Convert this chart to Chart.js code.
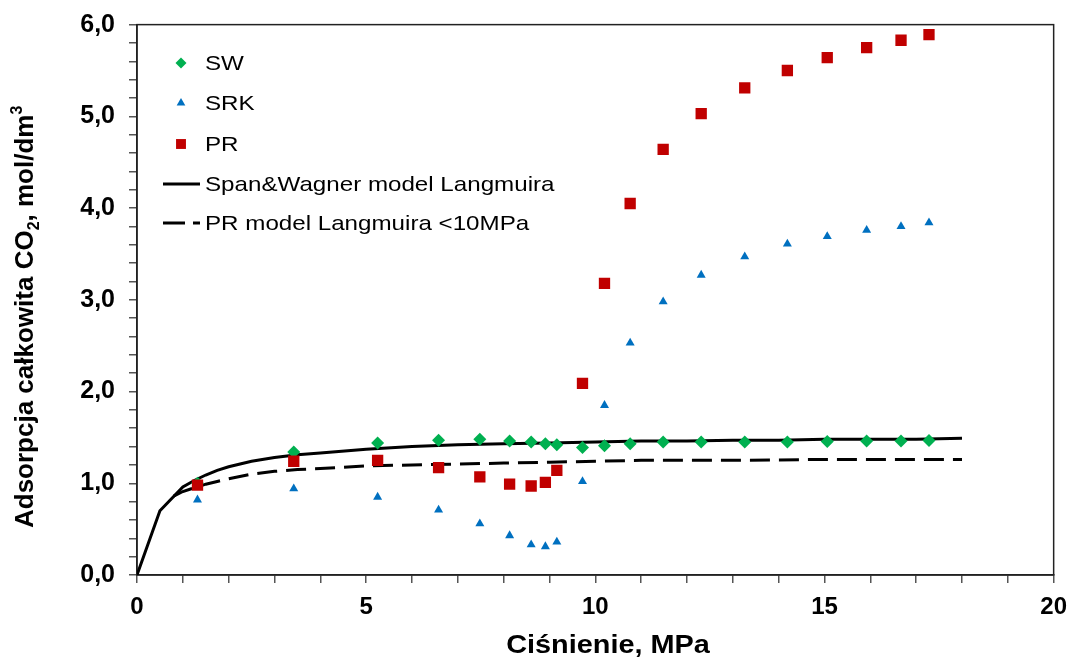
<!DOCTYPE html>
<html>
<head>
<meta charset="utf-8">
<script src="https://cdn.jsdelivr.net/npm/chart.js@4/dist/chart.umd.min.js"></script>
<style>
  html, body { margin: 0; padding: 0; background: #fff; }
  #wrap { width: 1070px; height: 662px; }
</style>
</head>
<body>
<div id="wrap"><canvas id="chart"></canvas></div>
<script>
// measured points (pressure in MPa)
const pressure = [1.32, 3.42, 5.25, 6.58, 7.48, 8.13, 8.60, 8.91, 9.16, 9.72,
  10.20, 10.76, 11.48, 12.31, 13.26, 14.19, 15.06, 15.92, 16.67, 17.28];
const swValues = [1.00, 1.34, 1.44, 1.47, 1.48, 1.46, 1.45, 1.43, 1.42, 1.39,
  1.41, 1.43, 1.45, 1.45, 1.45, 1.45, 1.455, 1.46, 1.46, 1.465];
const srkValues = [0.82, 0.94, 0.85, 0.71, 0.56, 0.43, 0.33, 0.31, 0.36, 1.02,
  1.85, 2.53, 2.98, 3.27, 3.47, 3.61, 3.69, 3.76, 3.80, 3.84];
const prValues = [0.98, 1.24, 1.25, 1.17, 1.07, 0.99, 0.97, 1.01, 1.14, 2.09,
  3.18, 4.05, 4.64, 5.03, 5.31, 5.50, 5.64, 5.75, 5.83, 5.89];

// model curves
const swModelP = [0, 0.5, 1, 1.25, 1.5, 1.75, 2, 2.5, 3, 3.5, 4, 5, 6, 7, 8, 9, 10, 11, 12, 13, 14, 15, 16, 17, 18];
const swModelQ = [0, 0.70, 0.96, 1.03, 1.09, 1.14, 1.18, 1.24, 1.28, 1.31, 1.33, 1.37, 1.40, 1.42, 1.43, 1.44, 1.45,
  1.46, 1.46, 1.47, 1.47, 1.48, 1.48, 1.48, 1.49];
const prModelP = [0.8, 1, 1.25, 1.5, 1.75, 2, 2.5, 3, 3.5, 4, 5, 6, 7, 8, 9, 10, 11, 12, 13, 14, 15, 16, 17, 18];
const prModelQ = [0.86, 0.91, 0.95, 0.99, 1.02, 1.05, 1.10, 1.13, 1.15, 1.16, 1.19, 1.20, 1.21, 1.22, 1.23, 1.24,
  1.25, 1.25, 1.25, 1.255, 1.26, 1.26, 1.26, 1.26];

const xTicks = [0, 5, 10, 15, 20];
const yTicks = [0, 1, 2, 3, 4, 5, 6];

const legendLabels = ['SW', 'SRK', 'PR', 'Span&Wagner model Langmuira', 'PR model Langmuira <10MPa'];

const GREEN = '#00B050';
const BLUE = '#0070C0';
const RED = '#C00000';
const FONT = "'Liberation Sans', Arial, sans-serif";

function pts(xs, ys) {
  return xs.map((x, i) => ({ x: x, y: ys[i] }));
}

const framePlugin = {
  id: 'frame',
  beforeDatasetsDraw(chart) {
    const a = chart.chartArea;
    const ctx = chart.ctx;
    ctx.save();
    ctx.strokeStyle = '#222';
    ctx.lineWidth = 1.5;
    ctx.strokeRect(a.left, a.top, a.right - a.left, a.bottom - a.top);
    ctx.restore();
  }
};

// axis titles (y one needs a subscript and a superscript)
const axisTitles = {
  id: 'axisTitles',
  afterDraw(chart) {
    const ctx = chart.ctx;
    ctx.save();
    ctx.fillStyle = '#000';
    ctx.textBaseline = 'alphabetic';
    ctx.textAlign = 'center';
    ctx.font = 'bold 26px ' + FONT;
    ctx.save();
    ctx.translate(608, 653);
    ctx.scale(1.11, 1);
    ctx.fillText('Ciśnienie, MPa', 0, 0);
    ctx.restore();

    ctx.textAlign = 'left';
    ctx.translate(33, 528);
    ctx.rotate(-Math.PI / 2);
    const big = 'bold 26px ' + FONT;
    const small = 'bold 16px ' + FONT;
    const parts = [
      ['Adsorpcja całkowita CO', big, 0],
      ['2', small, 6],
      [', mol/dm', big, 0],
      ['3', small, -11]
    ];
    let x = 0;
    parts.forEach(([t, f, dy]) => {
      ctx.font = f;
      ctx.fillText(t, x, dy);
      x += ctx.measureText(t).width;
    });
    ctx.restore();
  }
};

// legend drawn inside the plot, top-left
const innerLegend = {
  id: 'innerLegend',
  afterDraw(chart) {
    const ctx = chart.ctx;
    const ds = chart.data.datasets;
    ctx.save();
    const rows = [63, 103, 144, 184, 223];
    const mx = 181, tx = 205;
    const small = [5.5, 5, 7];
    for (let i = 0; i < 3; i++) {
      const d = ds[i];
      ctx.fillStyle = d.backgroundColor;
      ctx.strokeStyle = d.borderColor;
      Chart.helpers.drawPoint(ctx, { pointStyle: d.pointStyle, radius: small[i], rotation: 0, borderWidth: 0 }, mx, rows[i]);
    }
    ctx.strokeStyle = '#000';
    ctx.lineWidth = 3;
    ctx.beginPath();
    ctx.moveTo(163, rows[3]);
    ctx.lineTo(200, rows[3]);
    ctx.stroke();
    ctx.beginPath();
    ctx.moveTo(163, rows[4]);
    ctx.lineTo(185, rows[4]);
    ctx.moveTo(193, rows[4]);
    ctx.lineTo(200, rows[4]);
    ctx.stroke();
    ctx.fillStyle = '#000';
    ctx.font = '21px ' + FONT;
    ctx.textBaseline = 'middle';
    legendLabels.forEach((t, i) => {
      ctx.save();
      ctx.translate(tx, rows[i] + 1);
      ctx.scale(1.15, 1);
      ctx.fillText(t, 0, 0);
      ctx.restore();
    });
    ctx.restore();
  }
};

const isMajor = (v, list) => list.some(t => Math.abs(t - v) < 1e-6);

new Chart(document.getElementById('chart'), {
  type: 'scatter',
  data: {
    datasets: [
      { label: legendLabels[0], data: pts(pressure, swValues), pointStyle: 'rectRot', radius: 6.5,
        backgroundColor: GREEN, borderColor: GREEN, borderWidth: 0, order: 2 },
      { label: legendLabels[1], data: pts(pressure, srkValues), pointStyle: 'triangle', radius: 5.2,
        backgroundColor: BLUE, borderColor: BLUE, borderWidth: 0, order: 1 },
      { label: legendLabels[2], data: pts(pressure, prValues), pointStyle: 'rect', radius: 8,
        backgroundColor: RED, borderColor: RED, borderWidth: 0, order: 0 },
      { label: legendLabels[3], data: pts(swModelP, swModelQ), showLine: true, pointRadius: 0,
        borderColor: '#000', borderWidth: 3, tension: 0, order: 3 },
      { label: legendLabels[4], data: pts(prModelP, prModelQ), showLine: true, pointRadius: 0,
        borderColor: '#000', borderWidth: 3, borderDash: [20, 9], tension: 0, order: 4 }
    ]
  },
  options: {
    responsive: true,
    maintainAspectRatio: false,
    animation: false,
    layout: { padding: { left: 0, top: 21, right: 4, bottom: 0 } },
    plugins: {
      legend: { display: false },
      tooltip: { enabled: false }
    },
    scales: {
      x: {
        type: 'linear',
        min: 0,
        max: 20,
        afterFit(scale) { scale.height = 87; },
        ticks: {
          stepSize: 1,
          autoSkip: false,
          maxRotation: 0,
          padding: 3,
          color: '#000',
          font: { family: FONT, size: 24, weight: 'bold', lineHeight: 1.75 },
          callback: v => isMajor(v, xTicks) ? String(v) : ''
        },
        grid: { drawOnChartArea: false, drawTicks: true, tickLength: 8, color: '#555', lineWidth: 1.5 },
        border: { color: '#222', width: 1.5 }
      },
      y: {
        min: 0,
        max: 6,
        afterFit(scale) { scale.width = 137; },
        ticks: {
          stepSize: 0.2,
          autoSkip: false,
          padding: 14,
          color: '#000',
          font: { family: FONT, size: 25, weight: 'bold', lineHeight: 0.85 },
          callback: v => isMajor(v, yTicks) ? v.toFixed(1).replace('.', ',') : ''
        },
        grid: { drawOnChartArea: false, drawTicks: true, tickLength: 8, color: '#555', lineWidth: 1.5 },
        border: { color: '#222', width: 1.5 }
      }
    }
  },
  plugins: [framePlugin, innerLegend, axisTitles]
});
</script>
</body>
</html>
